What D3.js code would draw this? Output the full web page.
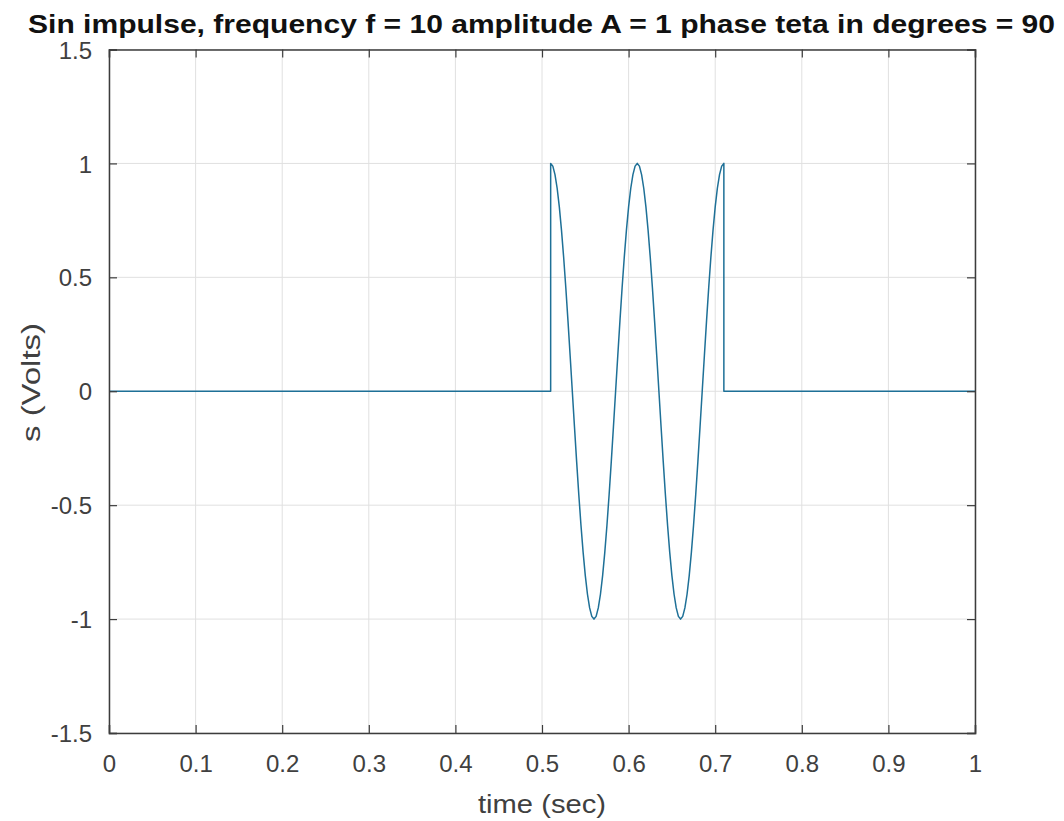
<!DOCTYPE html>
<html><head><meta charset="utf-8">
<script src="https://cdn.jsdelivr.net/npm/d3@7"></script>
<style>body{margin:0;background:#fff}</style>
</head><body>
<script>
// ---- data ----
const titleText = "Sin impulse, frequency f = 10 amplitude A = 1 phase teta in degrees = 90";
const xLabel = "time (sec)";
const yLabel = "s (Volts)";
const xTicks = [0, 0.1, 0.2, 0.3, 0.4, 0.5, 0.6, 0.7, 0.8, 0.9, 1];
const yTicks = [-1.5, -1, -0.5, 0, 0.5, 1, 1.5];
const pulseStart = 0.51;
const pulseEnd = 0.71;
const sampleStep = 0.0025;
// values read along the pulse, one every 0.0025 s from 0.51 s to 0.71 s
const pulseValues = [
  1, 0.988, 0.951, 0.891, 0.809, 0.707, 0.588, 0.454, 0.309, 0.156,
  0, -0.156, -0.309, -0.454, -0.588, -0.707, -0.809, -0.891, -0.951, -0.988,
  -1, -0.988, -0.951, -0.891, -0.809, -0.707, -0.588, -0.454, -0.309, -0.156,
  0, 0.156, 0.309, 0.454, 0.588, 0.707, 0.809, 0.891, 0.951, 0.988,
  1, 0.988, 0.951, 0.891, 0.809, 0.707, 0.588, 0.454, 0.309, 0.156,
  0, -0.156, -0.309, -0.454, -0.588, -0.707, -0.809, -0.891, -0.951, -0.988,
  -1, -0.988, -0.951, -0.891, -0.809, -0.707, -0.588, -0.454, -0.309, -0.156,
  0, 0.156, 0.309, 0.454, 0.588, 0.707, 0.809, 0.891, 0.951, 0.988,
  1
];

// ---- build series ----
const series = [[0, 0], [pulseStart, 0]];
pulseValues.forEach((v, i) => series.push([pulseStart + i * sampleStep, v]));
series.push([pulseEnd, 0], [1, 0]);

// ---- layout ----
const W = 1064, H = 821;
const L = 109, R = 975, T = 49.5, B = 733;
const FONT = "'Liberation Sans', Arial, Helvetica, sans-serif";

const svg = d3.select("body").append("svg").attr("width", W).attr("height", H)
  .style("font-family", FONT);

const x = d3.scaleLinear().domain([0, 1]).range([L, R]);
const y = d3.scaleLinear().domain([-1.5, 1.5]).range([B, T]);

// grid
const g = svg.append("g");
g.selectAll(".gx").data(xTicks).join("line")
  .attr("x1", d => x(d)).attr("x2", d => x(d)).attr("y1", T).attr("y2", B)
  .attr("stroke", "#e0e0e0").attr("stroke-width", 1);
g.selectAll(".gy").data(yTicks).join("line")
  .attr("y1", d => y(d)).attr("y2", d => y(d)).attr("x1", L).attr("x2", R)
  .attr("stroke", "#e0e0e0").attr("stroke-width", 1);

// line
const line = d3.line().x(d => x(d[0])).y(d => y(d[1]));
svg.append("path").datum(series).attr("d", line)
  .attr("fill", "none").attr("stroke", "#1e7097").attr("stroke-width", 1.5)
  .attr("stroke-linejoin", "round");

// axes (MATLAB style: inward ticks on all four sides)
const tickLen = 8;
const axColor = "#3c3c3c";
const fmt = d => d3.format("~g")(d).replace("\u2212", "-");
const xAxisB = d3.axisBottom(x).tickValues(xTicks).tickSize(-tickLen).tickPadding(22).tickFormat(fmt);
const xAxisT = d3.axisTop(x).tickValues(xTicks).tickSize(-tickLen).tickFormat("");
const yAxisL = d3.axisLeft(y).tickValues(yTicks).tickSize(-tickLen).tickPadding(17).tickFormat(fmt);
const yAxisR = d3.axisRight(y).tickValues(yTicks).tickSize(-tickLen).tickFormat("");

function style(sel) {
  sel.select(".domain").attr("stroke", axColor).attr("stroke-width", 1.5);
  sel.selectAll(".tick line").attr("stroke", axColor).attr("stroke-width", 1.2);
  sel.selectAll(".tick text").attr("fill", "#404040").style("font-size", "24px")
    .style("font-family", FONT);
}
svg.append("g").attr("transform", `translate(0,${B})`).call(xAxisB).call(style)
  .selectAll(".tick text").attr("dy", "0.71em");
svg.append("g").attr("transform", `translate(0,${T})`).call(xAxisT).call(style);
svg.append("g").attr("transform", `translate(${L},0)`).call(yAxisL).call(style)
  .selectAll(".tick text").attr("dy", "0.36em");
svg.append("g").attr("transform", `translate(${R},0)`).call(yAxisR).call(style);

// title
svg.append("text").attr("x", 541.5).attr("y", 33)
  .attr("text-anchor", "middle").attr("font-weight", "bold")
  .style("font-size", "26px").attr("fill", "#111")
  .attr("textLength", 1027).attr("lengthAdjust", "spacingAndGlyphs")
  .text(titleText);

// axis labels
svg.append("text").attr("x", 542).attr("y", 813)
  .attr("text-anchor", "middle").style("font-size", "25px").attr("fill", "#404040")
  .attr("textLength", 128).attr("lengthAdjust", "spacingAndGlyphs")
  .text(xLabel);
svg.append("text").attr("transform", `translate(40,382.5) rotate(-90)`)
  .attr("text-anchor", "middle").style("font-size", "25px").attr("fill", "#404040")
  .attr("textLength", 119).attr("lengthAdjust", "spacingAndGlyphs")
  .text(yLabel);
</script>
</body></html>
